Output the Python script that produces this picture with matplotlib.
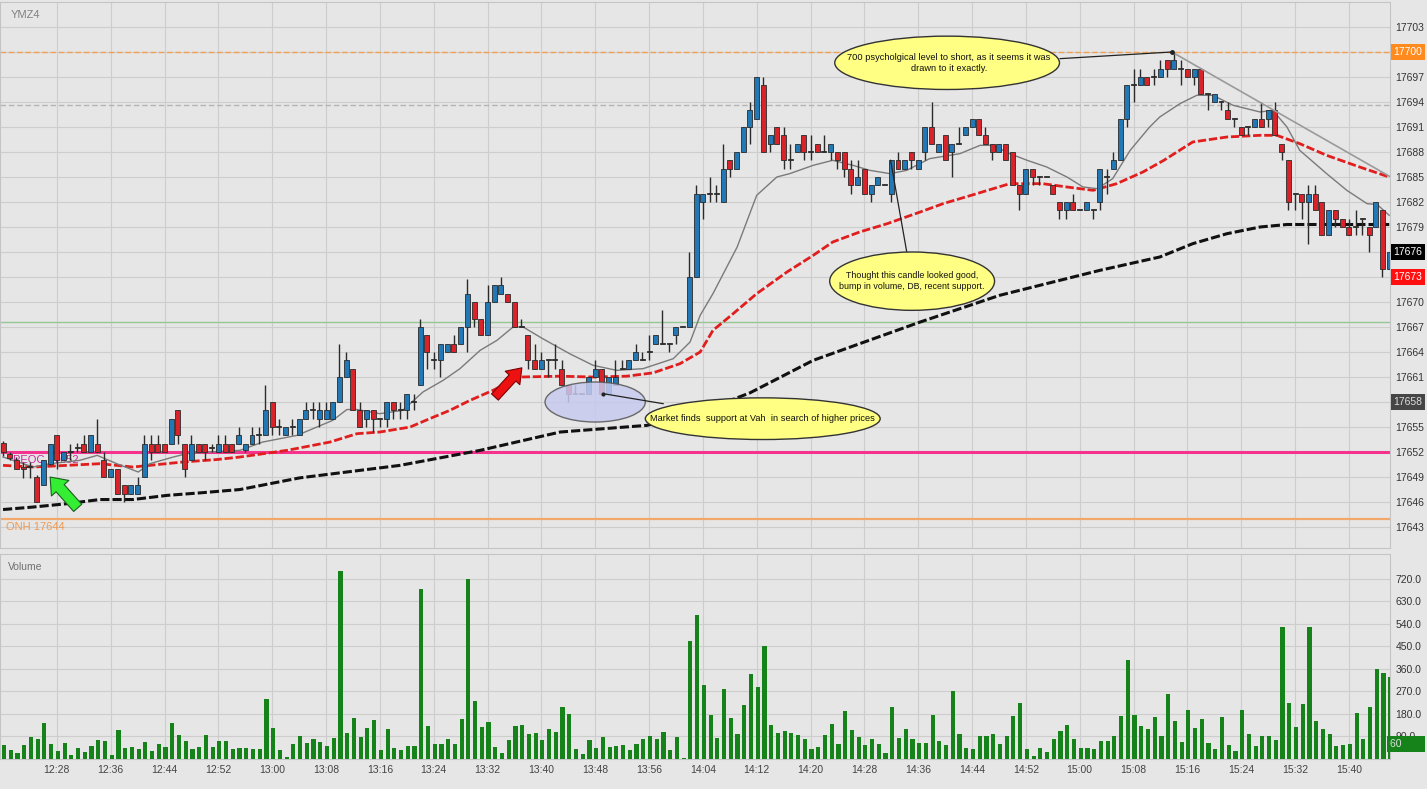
"""
YMZ4 one-minute chart with volume, annotated trade notes.
"""

# Imports #
import matplotlib
matplotlib.use("Agg")
import numpy as np
from matplotlib import pyplot as plt
from matplotlib.patches import Ellipse
from matplotlib.transforms import blended_transform_factory

plt.rcParams['font.family'] = ['Liberation Sans', 'DejaVu Sans']

# Data #
opens = [
    17653.1, 17651.8, 17651.0, 17650.2, 17650.2, 17649.0, 17648.0, 17650.6, 17654.0, 17651.0,
    17652.0, 17652.5, 17653.0, 17652.0, 17653.0, 17651.0, 17649.0, 17650.0, 17648.0, 17647.0,
    17647.0, 17649.0, 17653.0, 17653.0, 17653.0, 17653.0, 17657.0, 17653.0, 17651.0, 17653.0,
    17653.0, 17652.5, 17652.0, 17653.0, 17653.0, 17653.0, 17652.2, 17653.0, 17654.0, 17654.0,
    17658.0, 17655.0, 17654.0, 17655.0, 17654.0, 17656.0, 17657.0, 17656.0, 17656.0, 17656.0,
    17658.0, 17661.0, 17662.0, 17657.0, 17656.0, 17657.0, 17656.0, 17656.0, 17658.0, 17657.0,
    17657.0, 17658.0, 17660.0, 17666.0, 17663.0, 17663.0, 17664.0, 17665.0, 17665.0, 17667.0,
    17670.0, 17668.0, 17666.0, 17670.0, 17671.0, 17671.0, 17670.0, 17667.0, 17666.0, 17663.0,
    17662.0, 17663.0, 17663.0, 17662.0, 17660.0, 17659.0, 17659.0, 17659.0, 17661.0, 17662.0,
    17659.0, 17660.0, 17662.0, 17662.0, 17663.0, 17663.0, 17664.0, 17665.0, 17665.0, 17665.0,
    17666.0, 17667.0, 17667.0, 17673.0, 17682.0, 17683.0, 17683.0, 17682.0, 17687.0, 17686.0,
    17688.0, 17691.0, 17692.0, 17696.0, 17689.0, 17691.0, 17690.0, 17687.0, 17688.0, 17690.0,
    17688.0, 17689.0, 17688.0, 17688.0, 17688.0, 17688.0, 17686.0, 17684.0, 17686.0, 17683.0,
    17684.0, 17684.0, 17683.0, 17687.0, 17686.0, 17688.0, 17686.0, 17688.0, 17691.0, 17688.0,
    17690.0, 17688.0, 17689.0, 17690.0, 17691.0, 17692.0, 17690.0, 17689.0, 17688.0, 17689.0,
    17688.0, 17684.0, 17683.0, 17686.0, 17685.0, 17685.0, 17684.0, 17682.0, 17681.0, 17682.0,
    17681.0, 17681.0, 17681.0, 17682.0, 17685.0, 17686.0, 17687.0, 17692.0, 17696.0, 17696.0,
    17697.0, 17697.0, 17697.0, 17699.0, 17698.0, 17698.0, 17698.0, 17697.0, 17698.0, 17695.0,
    17694.0, 17694.0, 17693.0, 17692.0, 17691.0, 17691.0, 17691.0, 17692.0, 17692.0, 17693.0,
    17689.0, 17687.0, 17683.0, 17683.0, 17682.0, 17683.0, 17682.0, 17678.0, 17681.0, 17680.0,
    17679.0, 17679.0, 17680.0, 17679.0, 17679.0, 17681.0, 17674.0,
]
highs = [
    17653.3, 17652.0, 17651.4, 17650.8, 17650.8, 17649.2, 17651.0, 17653.0, 17654.0, 17652.0,
    17653.0, 17653.1, 17654.0, 17654.0, 17656.0, 17652.0, 17650.0, 17650.0, 17648.0, 17648.0,
    17649.0, 17654.0, 17654.0, 17654.0, 17653.0, 17656.0, 17657.0, 17653.0, 17654.0, 17653.0,
    17653.0, 17653.0, 17654.0, 17654.0, 17653.0, 17655.0, 17653.0, 17655.0, 17655.0, 17660.0,
    17658.0, 17656.0, 17655.0, 17656.0, 17656.0, 17658.0, 17658.0, 17658.0, 17658.0, 17658.0,
    17665.0, 17664.0, 17662.0, 17658.0, 17657.0, 17657.0, 17656.0, 17658.0, 17658.0, 17658.0,
    17659.0, 17659.0, 17668.0, 17666.0, 17664.0, 17665.0, 17665.0, 17666.0, 17667.0, 17672.8,
    17670.0, 17668.0, 17672.0, 17672.0, 17673.0, 17671.0, 17670.0, 17668.0, 17666.0, 17665.0,
    17664.0, 17663.0, 17665.0, 17663.0, 17660.0, 17660.0, 17659.0, 17661.0, 17663.0, 17662.0,
    17661.0, 17663.0, 17663.0, 17663.0, 17665.0, 17664.0, 17666.0, 17666.0, 17669.0, 17665.0,
    17667.0, 17667.0, 17676.0, 17684.0, 17683.0, 17685.0, 17684.0, 17689.0, 17687.0, 17688.0,
    17691.0, 17694.0, 17697.0, 17697.0, 17690.0, 17691.0, 17691.0, 17689.0, 17689.0, 17690.0,
    17690.0, 17689.0, 17690.0, 17689.0, 17688.0, 17688.0, 17687.0, 17687.0, 17686.0, 17684.0,
    17685.0, 17684.0, 17687.0, 17688.0, 17687.0, 17688.0, 17687.0, 17691.0, 17694.0, 17689.0,
    17690.0, 17689.0, 17691.0, 17691.0, 17692.0, 17692.0, 17691.0, 17689.0, 17689.0, 17689.0,
    17688.0, 17684.0, 17686.0, 17686.0, 17685.0, 17685.0, 17684.0, 17682.0, 17682.0, 17683.0,
    17681.0, 17682.0, 17681.0, 17686.0, 17686.0, 17688.0, 17692.0, 17696.0, 17698.0, 17698.0,
    17697.0, 17698.0, 17699.0, 17699.0, 17700.0, 17699.0, 17698.0, 17698.0, 17698.0, 17695.0,
    17695.0, 17694.0, 17694.0, 17692.0, 17691.0, 17691.0, 17692.0, 17694.0, 17693.0, 17694.0,
    17689.0, 17687.0, 17683.0, 17683.0, 17684.0, 17684.0, 17682.0, 17681.0, 17681.0, 17680.0,
    17680.0, 17681.0, 17680.0, 17679.0, 17682.0, 17681.0, 17676.0,
]
lows = [
    17651.5, 17651.0, 17650.0, 17648.9, 17648.9, 17646.0, 17648.0, 17650.4, 17650.0, 17651.0,
    17651.0, 17652.0, 17652.0, 17652.0, 17652.0, 17649.0, 17649.0, 17647.0, 17646.0, 17647.0,
    17647.0, 17649.0, 17651.0, 17652.0, 17652.0, 17653.0, 17653.0, 17649.0, 17651.0, 17652.0,
    17651.0, 17652.0, 17652.0, 17652.0, 17652.0, 17653.0, 17652.0, 17653.0, 17653.0, 17654.0,
    17654.0, 17654.0, 17654.0, 17654.0, 17654.0, 17656.0, 17656.0, 17655.0, 17656.0, 17656.0,
    17658.0, 17661.0, 17657.0, 17655.0, 17655.0, 17654.4, 17655.0, 17655.0, 17656.0, 17656.0,
    17656.0, 17657.0, 17660.0, 17662.0, 17662.0, 17661.0, 17664.0, 17664.0, 17665.0, 17664.0,
    17667.0, 17666.0, 17666.0, 17670.0, 17671.0, 17670.0, 17667.0, 17667.0, 17662.0, 17662.0,
    17662.0, 17661.0, 17662.0, 17660.0, 17658.0, 17659.0, 17659.0, 17659.0, 17661.0, 17659.0,
    17659.0, 17660.0, 17662.0, 17662.0, 17663.0, 17663.0, 17663.0, 17665.0, 17665.0, 17664.0,
    17665.0, 17667.0, 17667.0, 17673.0, 17680.0, 17682.0, 17682.0, 17682.0, 17685.0, 17686.0,
    17688.0, 17689.0, 17692.0, 17688.0, 17688.0, 17689.0, 17686.0, 17686.0, 17688.0, 17687.0,
    17687.0, 17688.0, 17688.0, 17687.0, 17686.0, 17685.0, 17683.0, 17684.0, 17683.0, 17682.0,
    17684.0, 17684.0, 17682.0, 17686.0, 17686.0, 17686.0, 17686.0, 17687.0, 17689.0, 17688.0,
    17687.0, 17685.0, 17689.0, 17690.0, 17691.0, 17690.0, 17689.0, 17687.0, 17688.0, 17687.0,
    17684.0, 17681.0, 17683.0, 17684.0, 17684.0, 17685.0, 17683.0, 17680.0, 17680.0, 17681.0,
    17681.0, 17681.0, 17680.0, 17681.0, 17683.0, 17686.0, 17687.0, 17691.0, 17694.0, 17696.0,
    17696.0, 17696.0, 17697.0, 17697.0, 17698.0, 17696.0, 17697.0, 17696.0, 17695.0, 17693.0,
    17694.0, 17693.0, 17692.0, 17691.0, 17690.0, 17690.0, 17691.0, 17691.0, 17691.0, 17690.0,
    17687.0, 17681.0, 17681.0, 17680.0, 17677.0, 17681.0, 17678.0, 17678.0, 17679.0, 17679.0,
    17678.0, 17678.0, 17678.0, 17676.0, 17679.0, 17673.0, 17674.0,
]
closes = [
    17652.0, 17651.3, 17650.0, 17650.0, 17650.2, 17646.0, 17651.0, 17653.0, 17651.0, 17652.0,
    17652.0, 17652.5, 17652.0, 17654.0, 17652.0, 17649.0, 17650.0, 17647.0, 17647.0, 17648.0,
    17648.0, 17653.0, 17652.0, 17652.0, 17652.0, 17656.0, 17654.0, 17650.0, 17653.0, 17652.0,
    17652.0, 17652.5, 17653.0, 17652.0, 17652.0, 17654.0, 17653.0, 17654.0, 17654.0, 17657.0,
    17655.0, 17655.0, 17655.0, 17655.0, 17656.0, 17657.0, 17657.0, 17657.0, 17657.0, 17658.0,
    17661.0, 17663.0, 17657.0, 17655.0, 17657.0, 17656.0, 17656.0, 17658.0, 17657.0, 17657.0,
    17659.0, 17658.0, 17667.0, 17664.0, 17663.0, 17665.0, 17665.0, 17664.0, 17667.0, 17671.0,
    17668.0, 17666.0, 17670.0, 17672.0, 17672.0, 17670.0, 17667.0, 17667.0, 17663.0, 17662.0,
    17663.0, 17663.0, 17663.0, 17660.0, 17659.0, 17659.0, 17659.0, 17661.0, 17662.0, 17659.0,
    17661.0, 17661.0, 17662.0, 17663.0, 17664.0, 17663.0, 17664.0, 17666.0, 17665.0, 17665.0,
    17667.0, 17667.0, 17673.0, 17683.0, 17683.0, 17683.0, 17683.0, 17686.0, 17686.0, 17688.0,
    17691.0, 17693.0, 17697.0, 17688.0, 17690.0, 17689.0, 17687.0, 17687.0, 17689.0, 17688.0,
    17688.0, 17688.0, 17688.0, 17689.0, 17687.0, 17686.0, 17684.0, 17685.0, 17683.0, 17684.0,
    17685.0, 17684.0, 17687.0, 17686.0, 17687.0, 17687.0, 17687.0, 17691.0, 17689.0, 17689.0,
    17687.0, 17689.0, 17689.0, 17691.0, 17692.0, 17690.0, 17689.0, 17688.0, 17689.0, 17687.0,
    17684.0, 17683.0, 17686.0, 17685.0, 17685.0, 17685.0, 17683.0, 17681.0, 17682.0, 17681.0,
    17681.0, 17682.0, 17681.0, 17686.0, 17685.0, 17687.0, 17692.0, 17696.0, 17696.0, 17697.0,
    17696.0, 17697.0, 17698.0, 17698.0, 17699.0, 17698.0, 17697.0, 17698.0, 17695.0, 17695.0,
    17695.0, 17694.0, 17692.0, 17692.0, 17690.0, 17691.0, 17692.0, 17691.0, 17693.0, 17690.0,
    17688.0, 17682.0, 17683.0, 17682.0, 17683.0, 17681.0, 17678.0, 17681.0, 17680.0, 17679.0,
    17678.0, 17679.0, 17680.0, 17678.0, 17682.0, 17674.0, 17676.0,
]
volumes = [
    56, 36, 23, 56, 86, 80, 142, 60, 32, 64,
    16, 44, 28, 52, 76, 72, 16, 115, 45, 48,
    41, 68, 33, 60, 48, 143, 95, 72, 41, 48,
    95, 48, 72, 72, 41, 44, 44, 41, 41, 239,
    123, 36, 8, 60, 91, 64, 80, 68, 52, 84,
    752, 103, 163, 87, 123, 155, 36, 119, 44, 36,
    52, 52, 680, 131, 60, 60, 80, 60, 159, 721,
    231, 127, 147, 48, 24, 76, 131, 135, 99, 103,
    76, 119, 107, 207, 179, 40, 20, 76, 44, 87,
    48, 52, 56, 36, 60, 80, 91, 80, 107, 36,
    87, 5, 473, 577, 294, 175, 84, 278, 163, 99,
    215, 338, 286, 453, 135, 103, 111, 103, 95, 80,
    40, 48, 95, 139, 60, 191, 115, 87, 56, 80,
    60, 24, 207, 84, 119, 80, 64, 64, 175, 72,
    56, 270, 99, 44, 40, 91, 91, 99, 60, 91,
    171, 223, 40, 12, 44, 28, 80, 111, 135, 80,
    44, 44, 40, 72, 72, 91, 171, 394, 175, 131,
    119, 167, 91, 258, 151, 68, 195, 123, 159, 64,
    40, 167, 56, 32, 195, 99, 52, 91, 91, 76,
    529, 223, 127, 219, 529, 151, 119, 99, 52, 56,
    60, 183, 80, 207, 358, 342, 329,
]

# Moving averages (bar index, price)
fast_x = [0, 4.5, 7.0, 11.4, 14.0, 16.9, 20.1, 21.8, 25.3, 27.3, 30.3, 35.2, 38.6, 43.7,
          49.0, 51.1, 52.6, 56.0, 59.4, 62.4, 65.4, 67.9, 70.9, 73.4, 75.8, 77.3, 80.2,
          84.2, 87.7, 91.2, 95.1, 99.6, 102.1, 103.6, 105.5, 109.1, 112.0, 115.0, 116.9,
          120.4, 123.3, 126.3, 128.8, 131.8, 134.3, 137.7, 142.2, 145.2, 147.1, 149.6,
          152.2, 155.1, 158.1, 160.5, 162.6, 164.9, 167.5, 170.4, 171.9, 174.9, 177.4,
          179.8, 182.8, 186.8, 188.7, 190.8, 192.7, 196.7, 199.7, 202.7, 204.2, 206.0]
fast_y = [17651.4, 17650.2, 17650.6, 17651.0, 17651.6, 17650.6, 17649.6, 17650.6, 17651.4,
          17651.8, 17652.0, 17652.2, 17653.2, 17654.0, 17655.8, 17657.1, 17657.1, 17656.6,
          17657.0, 17659.2, 17660.6, 17662.0, 17664.2, 17665.4, 17667.0, 17667.0, 17665.6,
          17663.8, 17662.4, 17661.8, 17662.0, 17663.2, 17665.2, 17668.4, 17671.0, 17676.6,
          17682.8, 17685.0, 17685.4, 17686.4, 17687.0, 17686.4, 17685.8, 17685.4, 17685.8,
          17687.2, 17687.8, 17688.8, 17688.8, 17687.8, 17687.0, 17686.2, 17685.0, 17683.8,
          17683.6, 17684.8, 17688.2, 17691.0, 17692.2, 17693.8, 17694.8, 17694.8, 17693.6,
          17692.8, 17693.0, 17691.0, 17688.2, 17685.4, 17683.4, 17681.8, 17681.7, 17680.4]

mid_x = [0, 4.5, 9.5, 14.4, 19.3, 26.7, 31.8, 35.2, 42.2, 48.6, 52.6, 56.0, 60.5, 63.4,
         66.4, 69.4, 72.8, 76.8, 82.8, 87.7, 92.7, 96.6, 100.6, 103.6, 105.5, 108.5, 112.0,
         116.5, 120.4, 123.3, 127.3, 131.4, 136.3, 139.7, 144.7, 149.6, 154.5, 158.1, 162.0,
         165.5, 169.4, 172.5, 176.8, 181.9, 186.8, 189.3, 192.7, 196.7, 201.6, 206.0]
mid_y = [17650.4, 17650.2, 17650.4, 17650.6, 17650.2, 17650.8, 17651.1, 17651.4, 17652.2,
         17653.2, 17654.2, 17654.4, 17655.0, 17656.0, 17657.0, 17658.2, 17659.4, 17661.0,
         17661.1, 17661.0, 17661.1, 17661.5, 17662.6, 17664.0, 17666.6, 17668.6, 17671.0,
         17673.6, 17675.6, 17677.2, 17678.4, 17679.4, 17680.8, 17681.8, 17683.0, 17684.2,
         17684.2, 17683.8, 17683.4, 17684.2, 17685.6, 17687.0, 17689.2, 17689.8, 17690.0,
         17690.0, 17689.0, 17687.6, 17686.2, 17685.0]

slow_x = [0, 4.5, 9.5, 14.4, 19.3, 24.4, 29.3, 35.2, 44.1, 59.0, 70.9, 82.8, 95.7, 103.6,
          111.0, 120.4, 136.3, 148.1, 163.0, 171.9, 176.8, 181.9, 186.8, 190.8, 206.0]
slow_y = [17645.1, 17645.4, 17645.8, 17646.3, 17646.3, 17646.8, 17647.1, 17647.5, 17648.9,
          17650.4, 17652.2, 17654.4, 17655.2, 17656.8, 17659.1, 17663.0, 17667.6, 17670.8,
          17673.8, 17675.4, 17677.0, 17678.2, 17679.0, 17679.3, 17679.3]

time_labels = ['12:28', '12:36', '12:44', '12:52', '13:00', '13:08', '13:16', '13:24',
               '13:32', '13:40', '13:48', '13:56', '14:04', '14:12', '14:20', '14:28',
               '14:36', '14:44', '14:52', '15:00', '15:08', '15:16', '15:24', '15:32', '15:40']
time_bars = [8 + 8 * k for k in range(len(time_labels))]

price_ticks = list(range(17643, 17704, 3))
volume_ticks = [90, 180, 270, 360, 450, 540, 630, 720]

# Levels
level_700 = 17700
level_gray = 17693.6
level_green = 17667.6
level_peoc = 17652
level_onh = 17644

# Right-hand price flags: value, text, box colour, text colour
flags = [(17700, '17700', '#FF8A1E', 'white'),
         (17676, '17676', '#000000', 'white'),
         (17673, '17673', '#FF0F0F', 'white'),
         (17658, '17658', '#454545', '#DDDDDD')]
flag_values = [f[0] for f in flags]

# Styles #
BG = '#E6E6E6'
GRID = '#CDCDCD'
BLUE = '#2277B5'
RED = '#D8232A'
EDGE = '#2B2B2B'
VOL_GREEN = '#15831A'
YELLOW = '#FFFF84'

fig = plt.figure(figsize=(14.27, 7.89), dpi=100, facecolor=BG)
ax = fig.add_axes([0.0, 0.3054, 0.974, 0.6921], facecolor=BG)
axv = fig.add_axes([0.0, 0.038, 0.974, 0.2598], facecolor=BG)

x = np.arange(len(closes))
o = np.array(opens)
h = np.array(highs)
l = np.array(lows)
c = np.array(closes)

for a in (ax, axv):
    a.set_xlim(-0.45, 206.1)
    for s in a.spines.values():
        s.set_color('#C4C4C4')
        s.set_linewidth(0.8)
    a.yaxis.tick_right()
    a.tick_params(axis='both', length=0, labelsize=7.5, colors='#333333')
    a.set_xticks(time_bars)
    a.grid(True, color=GRID, linewidth=0.8)
    a.set_axisbelow(True)

ax.set_ylim(17640.48, 17706.0)
ax.set_yticks(price_ticks)
# the flagged levels are covered by their flag boxes
ax.set_yticklabels(['' if p in flag_values else str(p) for p in price_ticks])
ax.tick_params(axis='y', pad=4)
ax.set_xticklabels([])

# Horizontal levels
ax.axhline(level_700, color='#F0A050', linewidth=1.0, linestyle=(0, (4, 2)), zorder=1)
ax.axhline(level_gray, color='#B4B4B4', linewidth=1.0, linestyle=(0, (4, 2)), zorder=1)
ax.axhline(level_green, color='#95C795', linewidth=1.0, zorder=1)
ax.axhline(level_peoc, color='#F5338F', linewidth=2.2, zorder=1)
ax.axhline(level_onh, color='#F2A868', linewidth=1.6, zorder=1)

ax.text(1.5, level_peoc - 0.3, 'PEOC 17652', color='#CC2A9A', fontsize=8,
        va='top', ha='left', zorder=1.5)
ax.text(0.5, level_onh - 0.35, 'ONH 17644', color='#F09A50', fontsize=8,
        va='top', ha='left', zorder=1.5)
ax.text(0.008, 0.985, 'YMZ4', transform=ax.transAxes, color='#808080', fontsize=8,
        va='top', ha='left')

# Moving averages
ax.plot(slow_x, slow_y, color='#111111', linewidth=2.2, linestyle=(0, (3, 1)), zorder=2)
ax.plot(mid_x, mid_y, color='#E01E1E', linewidth=2.0, linestyle=(0, (3, 1)), zorder=2)
ax.plot(fast_x, fast_y, color='#7A7A7A', linewidth=1.0, zorder=2)

# Candles
up = c > o
down = c < o
body_col = np.where(up, BLUE, np.where(down, RED, EDGE))
ax.vlines(x, l, h, color=EDGE, linewidth=1.0, zorder=3)
body_lo = np.minimum(o, c)
body_h = np.maximum(np.abs(c - o), 0.12)
ax.bar(x, body_h, bottom=body_lo, width=0.74, color=body_col, edgecolor=EDGE,
       linewidth=0.6, zorder=4)

# Annotations
ax.add_patch(Ellipse((88.0, 17658.0), 14.9, 4.8, facecolor='#C7CAEE', edgecolor='#555555',
                     linewidth=1.0, alpha=0.85, zorder=5))
ax.plot([89.2, 98.1], [17659.0, 17657.8], color='#222222', linewidth=0.9, zorder=5)
ax.plot([89.2], [17659.0], marker='o', markersize=2, color='#222222', zorder=5)

ax.add_patch(Ellipse((112.9, 17656.0), 34.9, 5.0, facecolor=YELLOW, edgecolor='#333333',
                     linewidth=1.0, zorder=6))
ax.text(112.9, 17656.0, 'Market finds  support at Vah  in search of higher prices',
        ha='center', va='center', fontsize=6.7, color='#111111', zorder=7)

ax.add_patch(Ellipse((135.1, 17672.5), 24.5, 7.0, facecolor=YELLOW, edgecolor='#333333',
                     linewidth=1.0, zorder=6))
ax.text(135.1, 17672.5, 'Thought this candle looked good,\nbump in volume, DB, recent support.',
        ha='center', va='center', fontsize=6.4, color='#111111', linespacing=1.35, zorder=7)
ax.plot([131.9, 134.3], [17687.0, 17676.0], color='#222222', linewidth=0.9, zorder=5)

ax.add_patch(Ellipse((140.3, 17698.7), 33.4, 6.4, facecolor=YELLOW, edgecolor='#333333',
                     linewidth=1.0, zorder=6))
ax.text(140.6, 17698.7, '700 psycholgical level to short, as it seems it was\ndrawn to it exactly.',
        ha='center', va='center', fontsize=6.7, color='#111111', linespacing=1.35, zorder=7)
ax.plot([157.1, 173.7], [17699.2, 17700.0], color='#222222', linewidth=0.9, zorder=5)
ax.plot([173.7, 206.0], [17700.0, 17685.1], color='#9A9A9A', linewidth=1.2, zorder=5)
ax.plot([173.7], [17700.0], marker='o', markersize=2.5, color='#222222', zorder=6)

ax.annotate('', xy=(77.1, 17662.1), xytext=(73.1, 17658.6),
            arrowprops=dict(arrowstyle='simple,head_width=1.3,head_length=0.9,tail_width=0.6',
                            fc='#EE1111', ec='#7A0000', lw=0.8, mutation_scale=11,
                            shrinkA=0, shrinkB=0), zorder=7)
ax.annotate('', xy=(7.0, 17649.0), xytext=(11.1, 17645.3),
            arrowprops=dict(arrowstyle='simple,head_width=1.4,head_length=0.9,tail_width=0.65',
                            fc='#33EE33', ec='#1E5E1E', lw=0.8, mutation_scale=12,
                            shrinkA=0, shrinkB=0), zorder=7)

tr = blended_transform_factory(ax.transAxes, ax.transData)
for yv, txt, bg, fg in flags:
    ax.text(1.0025, yv, txt, transform=tr, fontsize=7.5, color=fg, va='center', ha='left',
            bbox=dict(boxstyle='square,pad=0.25', facecolor=bg, edgecolor='none'),
            clip_on=False, zorder=10)

# Volume panel
axv.set_ylim(0, 819)
axv.set_yticks(volume_ticks)
axv.set_yticklabels([f'{v:.1f}' for v in volume_ticks])
axv.tick_params(axis='y', pad=4)
axv.set_xticklabels(time_labels)
axv.tick_params(axis='x', pad=4, colors='#444444')
axv.bar(x + 0.15, volumes, width=0.62, color=VOL_GREEN, zorder=3)
axv.text(0.006, 0.96, 'Volume', transform=axv.transAxes, color='#707070', fontsize=7.5,
         va='top', ha='left')
trv = blended_transform_factory(axv.transAxes, axv.transData)
axv.text(1.0, 60, '60 ' + ' ' * 6, transform=trv, fontsize=7.5, color='#DDDDDD', va='center',
         ha='left', bbox=dict(boxstyle='square,pad=0.3', facecolor=VOL_GREEN, edgecolor='none'),
         clip_on=False, zorder=10)

fig.savefig('out.png', dpi=100, facecolor=BG)
